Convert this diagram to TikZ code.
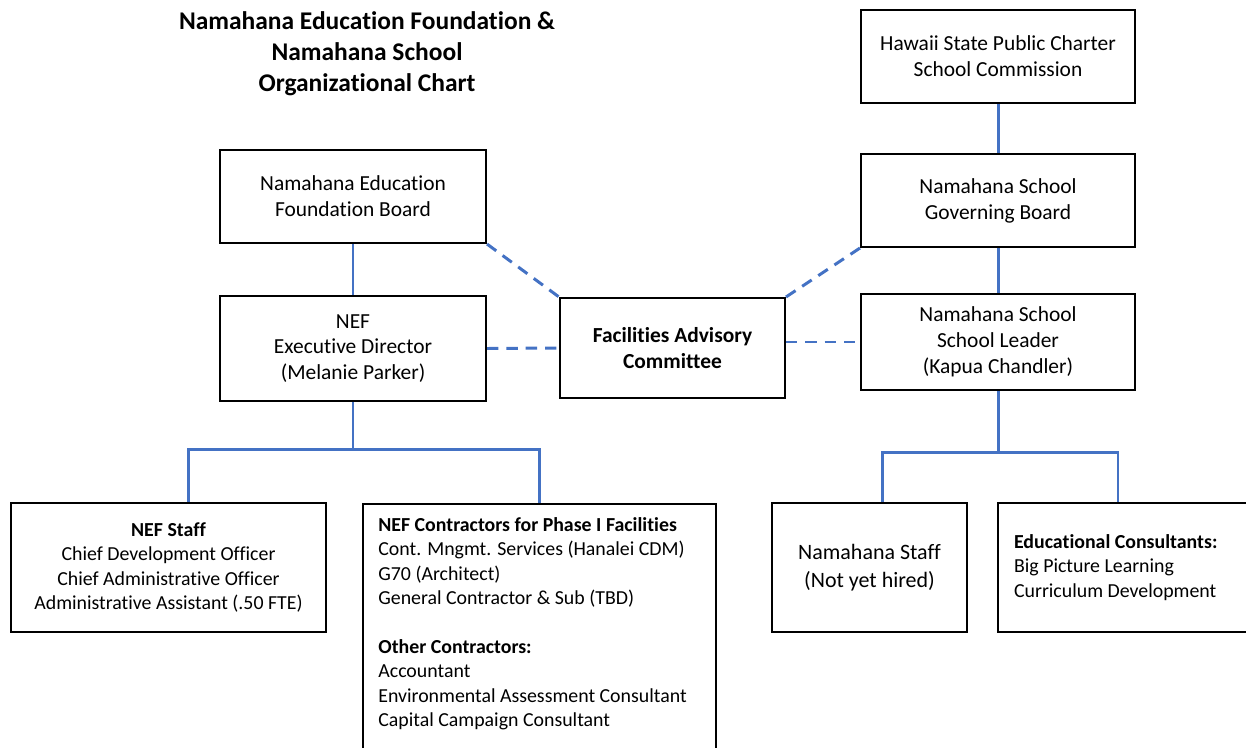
\documentclass[tikz,border=0pt]{standalone}
\usepackage{fontspec}
\setmainfont{Carlito}[Ligatures=NoCommon]
\definecolor{linkblue}{RGB}{68,114,196}
\begin{document}
\begin{tikzpicture}[x=0.02cm, y=-0.02cm,
  box/.style={draw, line width=1.2pt, inner sep=0pt, align=center, font=\fontsize{12.2}{14.7}\selectfont},
  smallbox/.style={box, font=\fontsize{11.3}{13.9}\selectfont},
  link/.style={linkblue, line width=1.7pt},
  dashlink/.style={link, dash pattern=on 6.5pt off 4.5pt}]
\path[use as bounding box, clip] (0,0) rectangle (1246,747);
\node[align=center, font=\bfseries\fontsize{14.5}{17.6}\selectfont] (title) at (367,54)
  {Namahana Education Foundation \&\\Namahana School\\Organizational Chart};
% left side
\node[box, minimum width=5.32cm, minimum height=1.86cm] (nefboard) at (353,196.5) {Namahana Education\\Foundation Board};
\node[box, minimum width=5.32cm, minimum height=2.1cm] (nefdir) at (353,348.5) {NEF\\Executive Director\\(Melanie Parker)};
\node[box, font=\bfseries\fontsize{12.2}{14.7}\selectfont, minimum width=4.5cm, minimum height=2cm] (advisory) at (672.5,348) {Facilities Advisory\\Committee};
% right side
\node[box, minimum width=5.48cm, minimum height=1.86cm] (commission) at (998,56.5) {Hawaii State Public Charter\\School Commission};
\node[box, minimum width=5.48cm, minimum height=1.86cm] (governing) at (998,200.5) {Namahana School\\Governing Board};
\node[box, minimum width=5.48cm, minimum height=1.92cm] (leader) at (998,342) {Namahana School\\School Leader\\(Kapua Chandler)};
% bottom row
\node[smallbox, minimum width=6.3cm, minimum height=2.58cm] (nefstaff) at (168.5,567.5)
  {\textbf{NEF Staff}\\Chief Development Officer\\Chief Administrative Officer\\Administrative Assistant (.50 FTE)};
\node[smallbox, anchor=north west, minimum width=7.06cm, minimum height=5.2cm] (contractors) at (362,503) {};
\node[anchor=north west, inner sep=0pt, align=left, font=\fontsize{11.3}{13.9}\selectfont] (contrtext) at (378,517)
  {\textbf{NEF Contractors for Phase I Facilities}\\Cont. Mngmt. Services (Hanalei CDM)\\G70 (Architect)\\General Contractor \& Sub (TBD)\\[13.9pt]
   \textbf{Other Contractors:}\\Accountant\\Environmental Assessment Consultant\\Capital Campaign Consultant};
\node[box, font=\fontsize{12.5}{15.9}\selectfont, minimum width=3.9cm, minimum height=2.58cm] (nsstaff) at (869.5,567.5) {Namahana Staff\\(Not yet hired)};
\node[smallbox, anchor=west, align=flush left, inner xsep=0.32cm, text width=4.76cm, minimum height=2.58cm] (educons) at (997,567.5)
  {\textbf{Educational Consultants:}\\Big Picture Learning\\Curriculum Development};
% solid links
\draw[link] (nefboard.south) -- (nefdir.north);
\draw[link] (commission.south) -- (governing.north);
\draw[link] (governing.south) -- (leader.north);
\draw[link] (nefdir.south) -- ++(0,47) coordinate (nefsplit);
\draw[link] ([xshift=0.4cm]nefstaff.north) |- (nefsplit) -| (contractors.north);
\draw[link] (leader.south) -- ++(0,61) coordinate (leadsplit);
\draw[link] ([xshift=0.25cm]nsstaff.north) |- (leadsplit) -| ([xshift=2.42cm]educons.north west);
% dashed links
\draw[dashlink] (nefboard.south east) -- (advisory.north west);
\draw[dashlink] (advisory.north east) -- (governing.south west);
\draw[dashlink] (nefdir.east) -- (advisory.west);
\draw[dashlink] (advisory.east |- leader.west) -- (leader.west);
\end{tikzpicture}
\end{document}
